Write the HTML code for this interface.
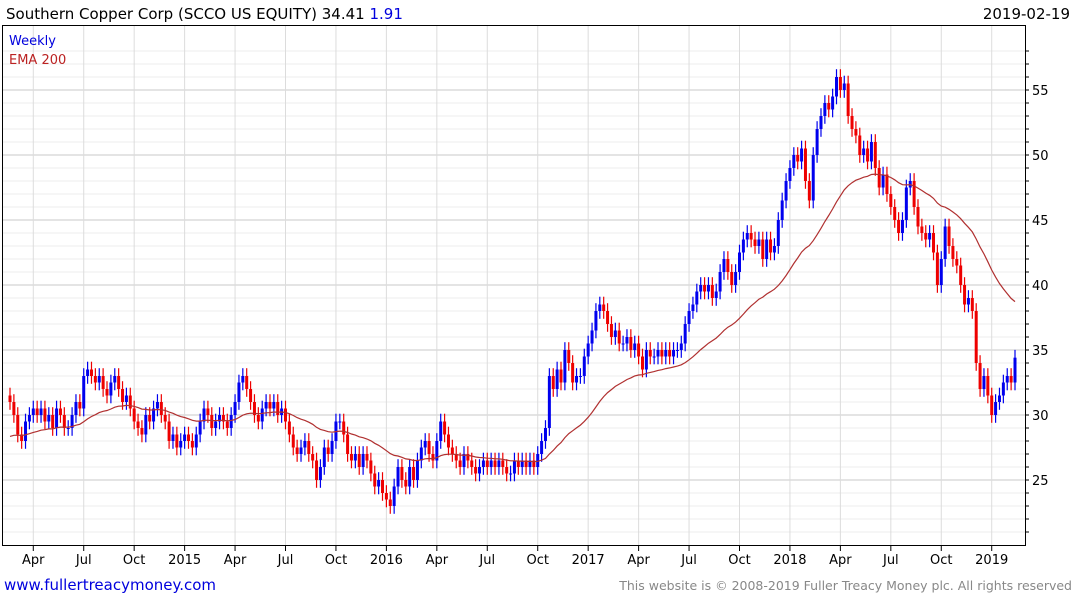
<!DOCTYPE html>
<html><head><meta charset="utf-8"><style>
body{margin:0;width:1075px;height:600px;background:#fff;font-family:"DejaVu Sans","Liberation Sans",sans-serif;overflow:hidden}
svg{display:block}
</style></head><body>
<svg id="chart" width="1075" height="600" xmlns="http://www.w3.org/2000/svg">
<text x="6" y="19" font-size="15" fill="#000">Southern Copper Corp (SCCO US EQUITY) 34.41 <tspan fill="#0000dd">1.91</tspan></text>
<text x="1070" y="19" font-size="15" fill="#000" text-anchor="end">2019-02-19</text>
<g id="grid"></g><g id="marks"></g>
<rect x="2.5" y="25.5" width="1023" height="520" fill="none" stroke="#000"/>
<text x="9" y="45" font-size="13" fill="#0000dd">Weekly</text>
<text x="9" y="64" font-size="13" fill="#b22">EMA 200</text>
<text x="4" y="590" font-size="15" fill="#0000dd">www.fullertreacymoney.com</text>
<text x="1072" y="590" font-size="12.5" fill="#888" text-anchor="end">This website is © 2008-2019 Fuller Treacy Money plc. All rights reserved</text>
</svg>
<script>
const closes=[31,30,28.5,28,29.5,30,30.5,
30,30.5,29.5,30,29,30.5,30,29,29,30,31,30.5,33,
33.5,33,32.5,33,32,31.5,32.5,33,32,31,31.5,30.5,29.5,
29,28.5,30,29.5,30.5,31,30,29.5,28,28.5,27.5,28,28.5,
28,27.5,28.5,29.5,30.5,30,29,29.5,30,29.5,29,30,31,
32.5,33,32,31,30,29.5,30.5,31,30.5,31,30,30.5,29.5,
28.5,27.5,27,27.5,28,27,26.5,25,26,27.5,27,28,29.5,
29.5,28.5,27,26.5,27,26,27,26.5,25.5,24.5,25,24,23.5,
23,24.5,26,25,24.5,26,25,26.5,27.5,28,27,26.5,28,
29.5,28.5,27.5,27,26.5,26,27,26.5,26,25.5,26,26.5,26,
26.5,26,26.5,26,25.5,25.5,26.5,26,26.5,26,26.5,26,27,
28,29,33,32,33.5,32.5,35,34,32.5,33,33,34.5,35.5,
36.5,38,38.5,38,37,36,36.5,35.5,35.5,36,35,35.5,34.5,
33.5,35,34.5,34.5,35,34.5,35,34.5,35,35,35.5,37,38,
38.5,39.5,40,39.5,40,39,39.5,41,42,41,40,41,42.5,
43.5,44,43.5,43,43.5,42,43.5,42.5,43,45,46.5,48,49,
50,49.5,50.5,48,46.5,50,52,53,54,53.5,54.5,56,55,
55.5,53,52,51.5,50,50.5,49.5,51,49,47.5,48.5,47,46,
45,44,45,47.5,48,46,44.5,44,43.5,44,42.5,40,42,
44.5,43,42,41.5,40,38.5,39,38,34,32,33,31.5,30,
31,31.5,32.5,33,32.5,34.41];
const yTicks=[25,30,35,40,45,50,55];
const xLabels=["Apr","Jul","Oct","2015","Apr","Jul","Oct","2016","Apr","Jul","Oct","2017","Apr","Jul","Oct","2018","Apr","Jul","Oct","2019"];
const xLabelWeeks=[6,19,32,45,58,71,84,97,110,123,136,149,162,175,188,201,214,227,240,253];
const emaSeed=28.2;
const NS="http://www.w3.org/2000/svg";
const x0=10,step=(1015-x0)/(closes.length-1);
const X=i=>x0+i*step, Y=v=>90+(55-v)*13;
const grid=document.getElementById('grid'),marks=document.getElementById('marks');
function el(t,a,p){const e=document.createElementNS(NS,t);for(const k in a)e.setAttribute(k,a[k]);p.appendChild(e);return e;}
for(let v=21;v<=58;v++){const y=Y(v);if(y<26||y>545)continue;
 const l=el('line',{x1:3,x2:1025,y1:y,y2:y,stroke:v%5?'#ececec':'#c8c8c8'},grid);
 
 
 const t=el('line',{x1:1025,x2:1029,y1:y,y2:y,stroke:'#000'},grid);
 
 }
yTicks.forEach(v=>{const t=el('text',{x:1032,y:Y(v)+5,'font-size':13,fill:'#000'},grid);t.textContent=v;
 
 });
xLabels.forEach((s,k)=>{const x=X(xLabelWeeks[k]);
 const l=el('line',{x1:x,x2:x,y1:26,y2:545,stroke:'#dcdcdc'},grid);
 
 
 const tk=el('line',{x1:x,x2:x,y1:545,y2:551,stroke:'#000'},grid);
 
 
 const t=el('text',{x:x,y:564,'font-size':13,'text-anchor':'middle',fill:'#000'},grid);t.textContent=s;
 
 });
let prev=closes[0]+0.5;const a=2/37;let ema=emaSeed;const pts=[];
closes.forEach((c,i)=>{const o=prev;const up=c>=o;const col=up?'#0000ee':'#ee0000';const x=X(i);
 const hi=Math.max(o,c)+0.6,lo=Math.min(o,c)-0.6;
 const w=el('line',{x1:x,x2:x,y1:Y(hi),y2:Y(lo),stroke:col,'stroke-width':1.2},marks);
 
 
 const top=Y(Math.max(o,c)),h=Math.max(1,Y(Math.min(o,c))-top);
 const r=el('rect',{x:x-1.5,y:top,width:3,height:h,fill:col},marks);
 
 
 ema=ema+a*(c-ema);pts.push(x.toFixed(1)+','+Y(ema).toFixed(1));prev=c;});
const p=el('polyline',{points:pts.join(' '),fill:'none',stroke:'#b03030','stroke-width':1.2},marks);


</script>
</body></html>
